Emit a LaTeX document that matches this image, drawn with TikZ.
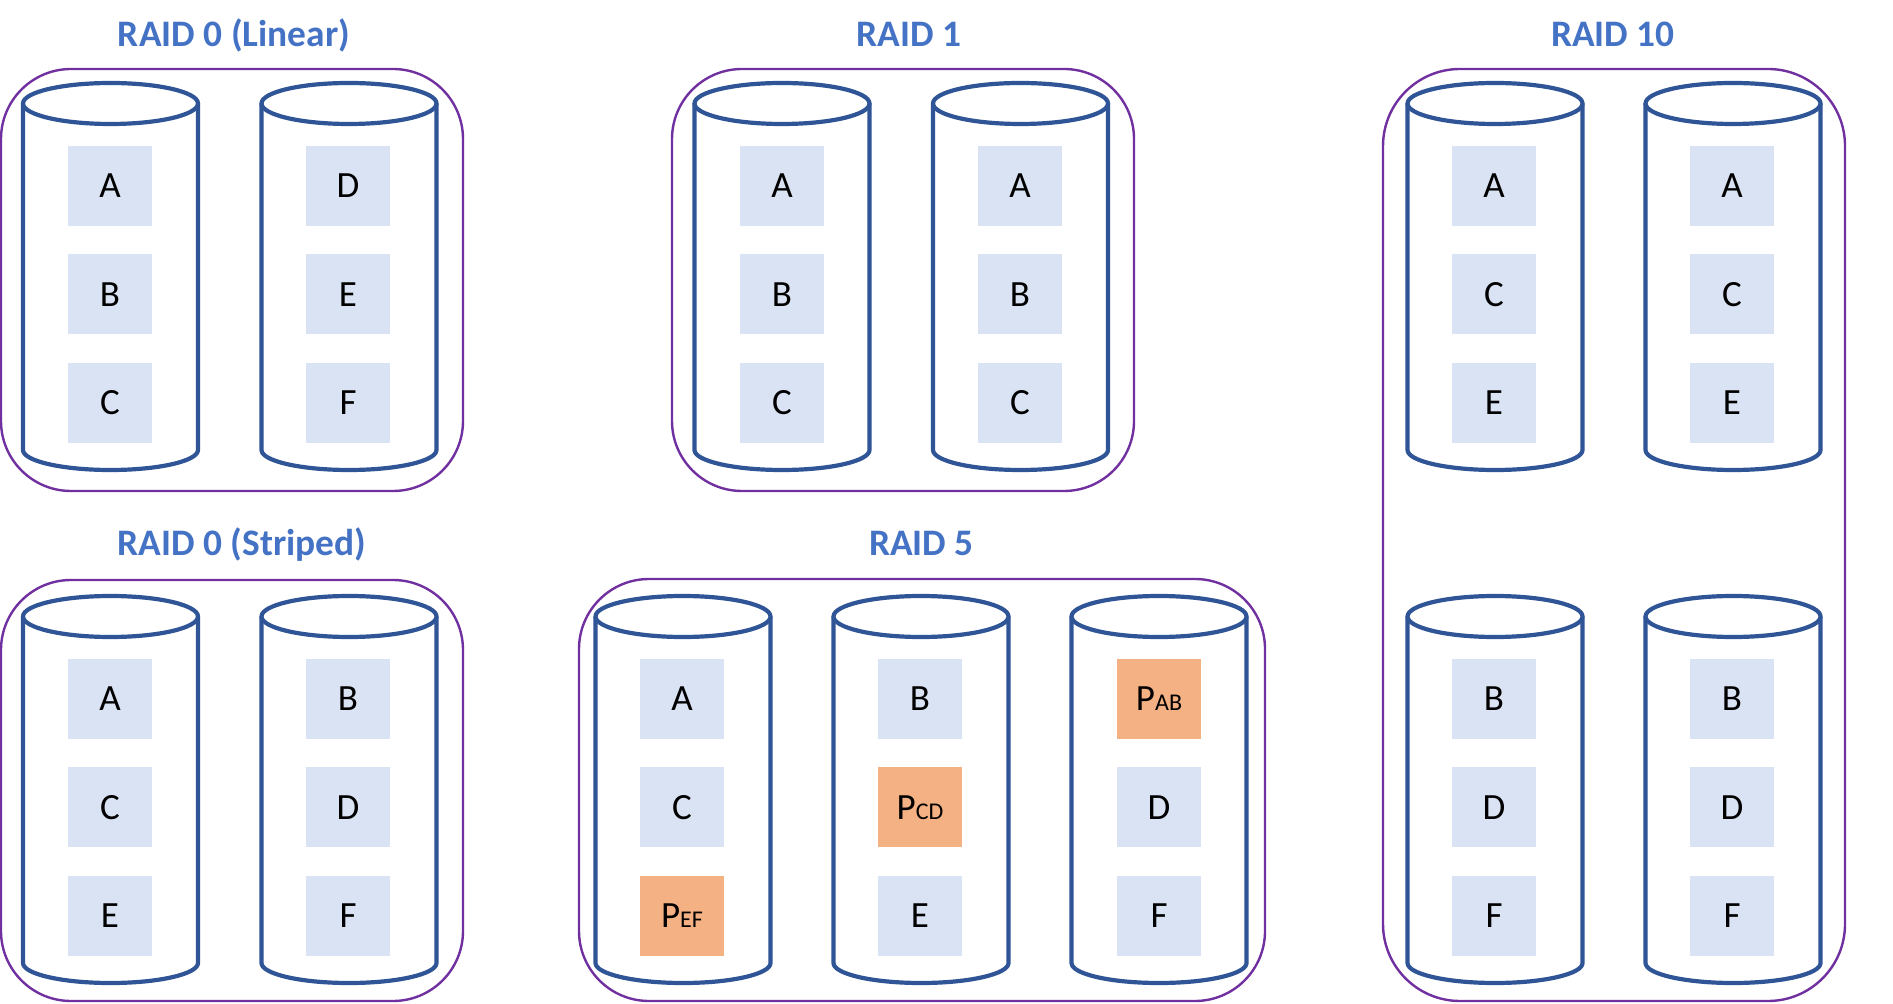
\documentclass[tikz,border=0pt]{standalone}
\usepackage{fontspec}
\setmainfont{Carlito}
\usetikzlibrary{positioning}
\definecolor{diskblue}{HTML}{2F5597}
\definecolor{cellblue}{HTML}{DAE3F3}
\definecolor{paritypeach}{HTML}{F4B183}
\definecolor{grouppurple}{HTML}{7030A0}
\definecolor{titleblue}{HTML}{4472C4}
\newcommand{\pblock}[1]{P{\fontsize{12}{13}\selectfont #1}}

\begin{document}
\begin{tikzpicture}[x=0.5pt,y=-0.5pt,node distance=13.75pt,
  group/.style={draw=grouppurple,line width=1.2pt,rounded corners=35pt,inner sep=0pt},
  ttl/.style={font=\fontsize{18.7}{20}\selectfont\bfseries,text=titleblue,anchor=base,inner sep=0pt},
  cell/.style={fill=cellblue,minimum width=42pt,minimum height=40pt,inner sep=0pt,font=\fontsize{18.5}{20}\selectfont},
  pcell/.style={cell,fill=paritypeach},
  disk line/.style={draw=diskblue,line width=2.1pt,line join=round},
  disk/.pic={
    \draw[disk line] (-87.5,0) -- (-87.5,346.5) arc[start angle=180,end angle=0,x radius=87.5,y radius=20] -- (87.5,0);
    \draw[disk line] (0,0) ellipse[x radius=87.5,y radius=20.5];
  }]
  \useasboundingbox (0,0) rectangle (1893,1004);

  % groups and titles
  \node[group,minimum width=231pt,minimum height=211pt] (lin) at (232,280) {};
  \node[group,minimum width=231pt,minimum height=211pt] (mir) at (903,280) {};
  \node[group,minimum width=231pt,minimum height=466pt,rounded corners=38.5pt] (rten) at (1614,535) {};
  \node[group,minimum width=231pt,minimum height=210.5pt] (str) at (232,790.5) {};
  \node[group,minimum width=343pt,minimum height=211pt] (rfive) at (922,790) {};
  \node[ttl] (linT) at (234,46.5) {RAID 0 (Linear)};
  \node[ttl] (mirT) at (909,46.5) {RAID 1};
  \node[ttl] (rtenT) at (1613,46.5) {RAID 10};
  \node[ttl] (strT) at (242,556) {RAID 0 (Striped)};
  \node[ttl] (rfiveT) at (921.5,556) {RAID 5};

  % disks
  \pic (lin1) at (110.5,103.5) {disk};
  \pic (lin2) at (349,103.5) {disk};
  \pic (mir1) at (782,103.5) {disk};
  \pic (mir2) at (1020.5,103.5) {disk};
  \pic (rten1) at (1495,103.5) {disk};
  \pic (rten2) at (1733,103.5) {disk};
  \pic (str1) at (110.5,616.5) {disk};
  \pic (str2) at (349,616.5) {disk};
  \pic (rfive1) at (683,616.5) {disk};
  \pic (rfive2) at (921,616.5) {disk};
  \pic (rfive3) at (1159,616.5) {disk};
  \pic (rten3) at (1495,616.5) {disk};
  \pic (rten4) at (1733,616.5) {disk};

  % RAID 0 (Linear)
  \node[cell] (lin1a) at (110,186) {A};
  \node[cell,below=of lin1a] (lin1b) {B};
  \node[cell,below=of lin1b] (lin1c) {C};
  \node[cell] (lin2a) at (348,186) {D};
  \node[cell,below=of lin2a] (lin2b) {E};
  \node[cell,below=of lin2b] (lin2c) {F};

  % RAID 1
  \node[cell] (mir1a) at (782,186) {A};
  \node[cell,below=of mir1a] (mir1b) {B};
  \node[cell,below=of mir1b] (mir1c) {C};
  \node[cell] (mir2a) at (1020,186) {A};
  \node[cell,below=of mir2a] (mir2b) {B};
  \node[cell,below=of mir2b] (mir2c) {C};

  % RAID 10
  \node[cell] (rten1a) at (1494,186) {A};
  \node[cell,below=of rten1a] (rten1b) {C};
  \node[cell,below=of rten1b] (rten1c) {E};
  \node[cell] (rten2a) at (1732,186) {A};
  \node[cell,below=of rten2a] (rten2b) {C};
  \node[cell,below=of rten2b] (rten2c) {E};
  \node[cell] (rten3a) at (1494,699) {B};
  \node[cell,below=of rten3a] (rten3b) {D};
  \node[cell,below=of rten3b] (rten3c) {F};
  \node[cell] (rten4a) at (1732,699) {B};
  \node[cell,below=of rten4a] (rten4b) {D};
  \node[cell,below=of rten4b] (rten4c) {F};

  % RAID 0 (Striped)
  \node[cell] (str1a) at (110,699) {A};
  \node[cell,below=of str1a] (str1b) {C};
  \node[cell,below=of str1b] (str1c) {E};
  \node[cell] (str2a) at (348,699) {B};
  \node[cell,below=of str2a] (str2b) {D};
  \node[cell,below=of str2b] (str2c) {F};

  % RAID 5
  \node[cell] (rfive1a) at (682,699) {A};
  \node[cell,below=of rfive1a] (rfive1b) {C};
  \node[pcell,below=of rfive1b] (rfive1c) {\pblock{EF}};
  \node[cell] (rfive2a) at (920,699) {B};
  \node[pcell,below=of rfive2a] (rfive2b) {\pblock{CD}};
  \node[cell,below=of rfive2b] (rfive2c) {E};
  \node[pcell] (rfive3a) at (1159,699) {\pblock{AB}};
  \node[cell,below=of rfive3a] (rfive3b) {D};
  \node[cell,below=of rfive3b] (rfive3c) {F};
\end{tikzpicture}
\end{document}
